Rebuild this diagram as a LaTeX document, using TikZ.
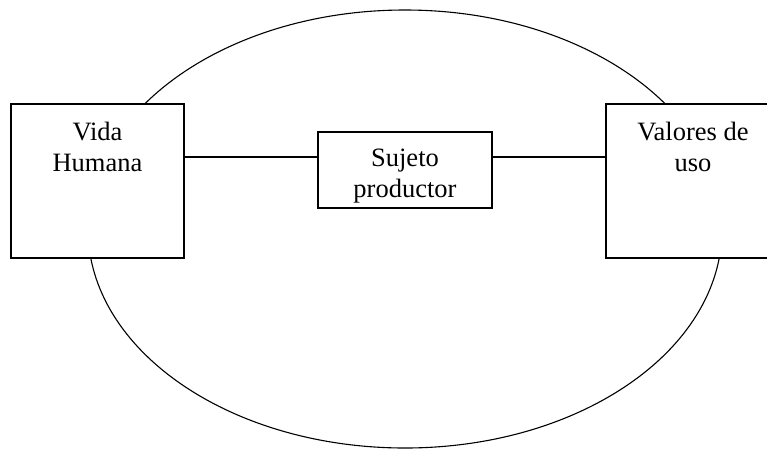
\documentclass[tikz,border=0pt]{standalone}
\usepackage{fontspec}
\setmainfont{Liberation Serif}

\tikzstyle{box} = [ draw,fill=white,line width=1.3pt,minimum width=173pt,
                    minimum height=154pt,inner sep=0pt]
\tikzstyle{boxtext} = [ align=center,inner sep=0pt,anchor=base,
                        font=\fontsize{26.5}{31}\selectfont]

\begin{document}
\begin{tikzpicture}[x=1pt,y=-1pt]
  \clip (0,0) rectangle (767,448);
  \draw[line width=1.1pt] (405,229) ellipse [x radius=317, y radius=219];

  \node[box] at (97.5,181) (vida)   {};
  \node[box] at (692.5,181) (valores)  {};
  \node[box,minimum width=174pt,minimum height=76pt] at (405,170) (sujeto)  {};
  \node[boxtext] at (97.5,171) (vidatext)   {Vida \\ Humana};
  \node[boxtext] at (693,171) (valorestext)  {Valores de \\ uso};
  \node[boxtext] at (405,197) (sujetotext)  {Sujeto \\ productor};

  \coordinate (lineY) at (0,157);
  \draw[line width=1.1pt] (vida.east |- lineY) -- (sujeto.west |- lineY);
  \draw[line width=1.1pt] (sujeto.east |- lineY) -- (valores.west |- lineY);
\end{tikzpicture}
\end{document}
